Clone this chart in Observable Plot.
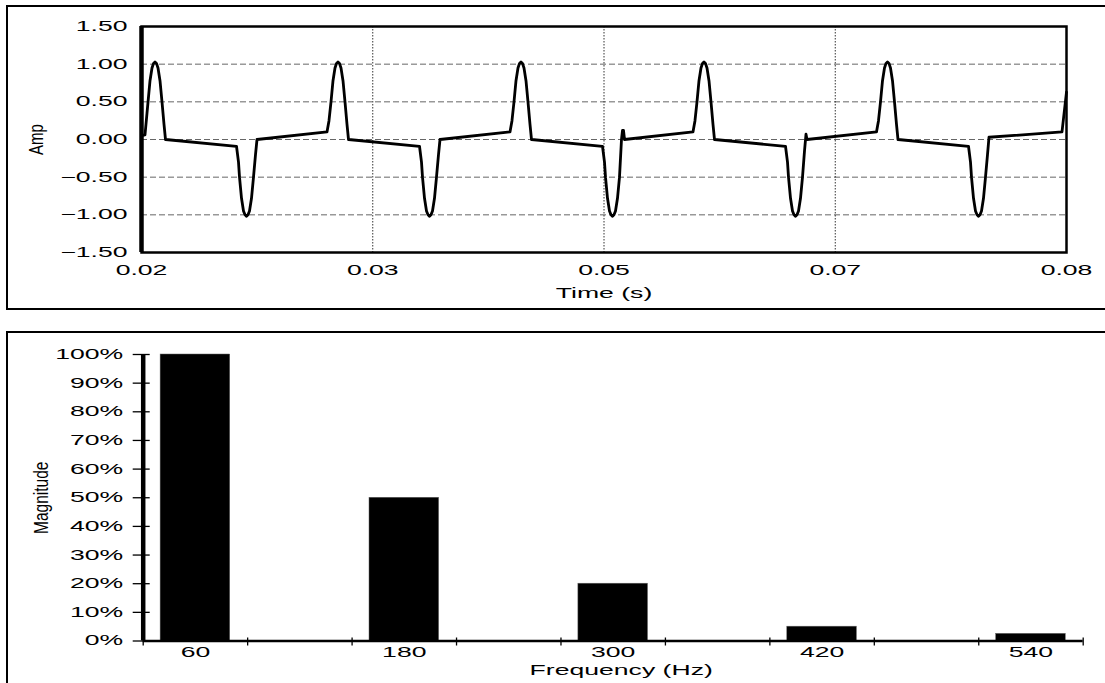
<!DOCTYPE html>
<html><head><meta charset="utf-8">
<script src="https://cdn.jsdelivr.net/npm/d3@7"></script>
<script src="https://cdn.jsdelivr.net/npm/@observablehq/plot@0.6"></script>
<style>
body{margin:0;background:#fff;overflow:hidden;width:1105px;height:683px;position:relative;font-family:"Liberation Sans",Arial,sans-serif}
#top,#bot{position:absolute;left:0}
#top{top:0}
#bot{top:320px}
.box{position:absolute;border:2.5px solid #000;box-sizing:border-box;pointer-events:none}
</style></head><body>
<div id="top"></div><div id="bot"></div>
<div class="box" style="left:6px;top:5px;width:1200px;height:304.5px"></div>
<div class="box" style="left:6px;top:331px;width:1200px;height:400px"></div>
<script>
// ---- Top chart: waveform (time in seconds, amplitude) ----
const waveTime = [
  0.020000,0.020227,0.020357,0.020552,0.020681,0.020779,0.020876,0.020973,0.021071,0.021200,0.021330,0.021460,0.021557,
  0.026162,0.026292,0.026357,0.026487,0.026616,0.026714,0.026811,0.026908,0.027006,0.027135,0.027265,0.027395,0.027492,
  0.032032,0.032162,0.032292,0.032422,0.032551,0.032649,0.032746,0.032843,0.032941,0.033070,0.033200,0.033330,0.033427,
  0.038032,0.038162,0.038227,0.038357,0.038486,0.038584,0.038681,0.038778,0.038876,0.039005,0.039135,0.039265,0.039362,
  0.043902,0.044032,0.044162,0.044292,0.044421,0.044519,0.044616,0.044713,0.044811,0.044940,0.045070,0.045200,0.045297,
  0.049902,0.050032,0.050097,0.050227,0.050356,0.050454,0.050551,0.050648,0.050746,0.050875,0.051005,0.051135,0.051200,0.051265,0.051330,
  0.055772,0.055902,0.056032,0.056162,0.056291,0.056389,0.056486,0.056583,0.056681,0.056810,0.056940,0.057070,0.057167,
  0.061773,0.061903,0.061968,0.062098,0.062227,0.062325,0.062422,0.062519,0.062617,0.062746,0.062876,0.063006,0.063103,0.063168,
  0.067675,0.067805,0.067935,0.068065,0.068194,0.068292,0.068389,0.068486,0.068584,0.068713,0.068843,0.068973,0.069070,
  0.073643,0.073773,0.073838,0.073968,0.074097,0.074195,0.074292,0.074389,0.074487,0.074616,0.074746,0.074876,0.074973,
  0.079708,0.080000
];
const waveAmp = [
  0.05,0.06,0.35,0.78,0.95,1.01,1.03,1.01,0.95,0.78,0.50,0.20,0.00,
  -0.09,-0.30,-0.50,-0.78,-0.95,-1.00,-1.02,-1.00,-0.95,-0.78,-0.50,-0.20,0.00,
  0.10,0.25,0.50,0.78,0.95,1.01,1.03,1.01,0.95,0.78,0.50,0.20,0.00,
  -0.09,-0.30,-0.50,-0.78,-0.95,-1.00,-1.02,-1.00,-0.95,-0.78,-0.50,-0.20,0.00,
  0.10,0.25,0.50,0.78,0.95,1.01,1.03,1.01,0.95,0.78,0.50,0.20,0.00,
  -0.09,-0.30,-0.50,-0.78,-0.95,-1.00,-1.02,-1.00,-0.95,-0.78,-0.50,0.00,0.12,0.12,0.00,
  0.10,0.25,0.50,0.78,0.95,1.01,1.03,1.01,0.95,0.78,0.50,0.20,0.00,
  -0.09,-0.30,-0.50,-0.78,-0.95,-1.00,-1.02,-1.00,-0.95,-0.78,-0.50,-0.15,0.07,0.00,
  0.10,0.25,0.50,0.78,0.95,1.01,1.03,1.01,0.95,0.78,0.50,0.20,0.00,
  -0.09,-0.30,-0.50,-0.78,-0.95,-1.00,-1.02,-1.00,-0.95,-0.78,-0.50,-0.20,0.03,
  0.10,0.63
];
const timeTicks = [0.02, 0.035, 0.05, 0.065, 0.08];
const timeTickLabels = ["0.02", "0.03", "0.05", "0.07", "0.08"];
const timeGrid = [0.035, 0.05, 0.065];
const ampTicks = [-1.5, -1, -0.5, 0, 0.5, 1, 1.5];
const ampGrid = [-1, -0.5, 0, 0.5, 1];

// ---- Bottom chart: harmonic spectrum ----
const freqs = [60, 180, 300, 420, 540];
const magnitudes = [100, 50, 20, 5, 2.5];
const freqTickMarks = [30, 90, 150, 210, 270, 330, 390, 450, 510, 570];
const magTicks = [0, 10, 20, 30, 40, 50, 60, 70, 80, 90, 100];

const wave = waveTime.map((t, i) => ({t, a: waveAmp[i]}));
const spectrum = freqs.map((f, i) => ({f, m: magnitudes[i]}));

const baseStyle = {fontFamily: "Liberation Sans, Arial, sans-serif", fontSize: "14px", color: "#000", background: "transparent"};

// horizontal texts are drawn wide, rotated titles are drawn thick, as in the reference
function widen(svg, k, kr) {
  svg.querySelectorAll("text").forEach(t => {
    const tr = t.getAttribute("transform") || "";
    if (/rotate/.test(tr)) t.setAttribute("transform", tr + ` scale(1,${kr})`);
    else t.setAttribute("transform", tr + ` scale(${k},1)`);
  });
}

const topChart = Plot.plot({
  width: 1105, height: 310,
  marginLeft: 141, marginRight: 39, marginTop: 26, marginBottom: 58,
  style: baseStyle,
  x: {domain: [0.02, 0.08]},
  y: {domain: [-1.5, 1.5]},
  marks: [
    Plot.ruleY(ampGrid, {stroke: "#666", strokeDasharray: "6,3", strokeWidth: 1}),
    Plot.ruleX(timeGrid, {stroke: "#333", strokeDasharray: "1.5,1.5", strokeWidth: 1}),
    Plot.axisY(ampTicks, {tickSize: 0, tickPadding: 14, tickFormat: d3.format(".2f"), label: null}),
    Plot.axisX(timeTicks, {tickSize: 0, tickPadding: 13, tickFormat: d => timeTickLabels[timeTicks.indexOf(d)], label: null}),
    Plot.line(wave, {x: "t", y: "a", stroke: "#000", strokeWidth: 2.8, strokeLinejoin: "round"}),
    Plot.frame({stroke: "#000", strokeWidth: 2.5}),
    Plot.ruleX([0.02], {stroke: "#000", strokeWidth: 4.5}),
    Plot.text(["Amp"], {text: d => d, frameAnchor: "left", dx: -105, rotate: -90, fontSize: 15, textAnchor: "middle", lineAnchor: "middle"}),
    Plot.text(["Time (s)"], {text: d => d, frameAnchor: "bottom", dy: 41, lineAnchor: "middle", textAnchor: "middle"})
  ]
});
widen(topChart, 1.9, 1.3);
document.getElementById("top").appendChild(topChart);

const botChart = Plot.plot({
  width: 1105, height: 363,
  marginLeft: 142.7, marginRight: 22.3, marginTop: 34, marginBottom: 42.5,
  style: baseStyle,
  x: {domain: [30, 570]},
  y: {domain: [0, 100]},
  marks: [
    Plot.rectY(spectrum, {x1: d => d.f - 20, x2: d => d.f + 20, y: "m", fill: "#000", stroke: "#666", strokeWidth: 0.5}),
    Plot.axisY(magTicks, {tickSize: 17, dx: 7, tickPadding: 10, strokeWidth: 1.3, tickFormat: d => d + "%", label: null}),
    Plot.axisX(freqTickMarks, {tickSize: 8, dy: -3, strokeWidth: 1.3, tickFormat: () => "", label: null}),
    Plot.axisX(freqs, {tickSize: 0, tickPadding: 6.5, label: null}),
    Plot.ruleY([0], {stroke: "#000", strokeWidth: 2.5}),
    Plot.ruleX([30], {stroke: "#000", strokeWidth: 4.5}),
    Plot.text(["Magnitude"], {text: d => d, frameAnchor: "left", dx: -101.7, rotate: -90, fontSize: 15.5, textAnchor: "middle", lineAnchor: "middle"}),
    Plot.text(["Frequency (Hz)"], {text: d => d, frameAnchor: "bottom", dx: 8, dy: 29.5, lineAnchor: "middle", textAnchor: "middle"})
  ]
});
widen(botChart, 1.9, 1.3);
document.getElementById("bot").appendChild(botChart);
</script>
</body></html>
